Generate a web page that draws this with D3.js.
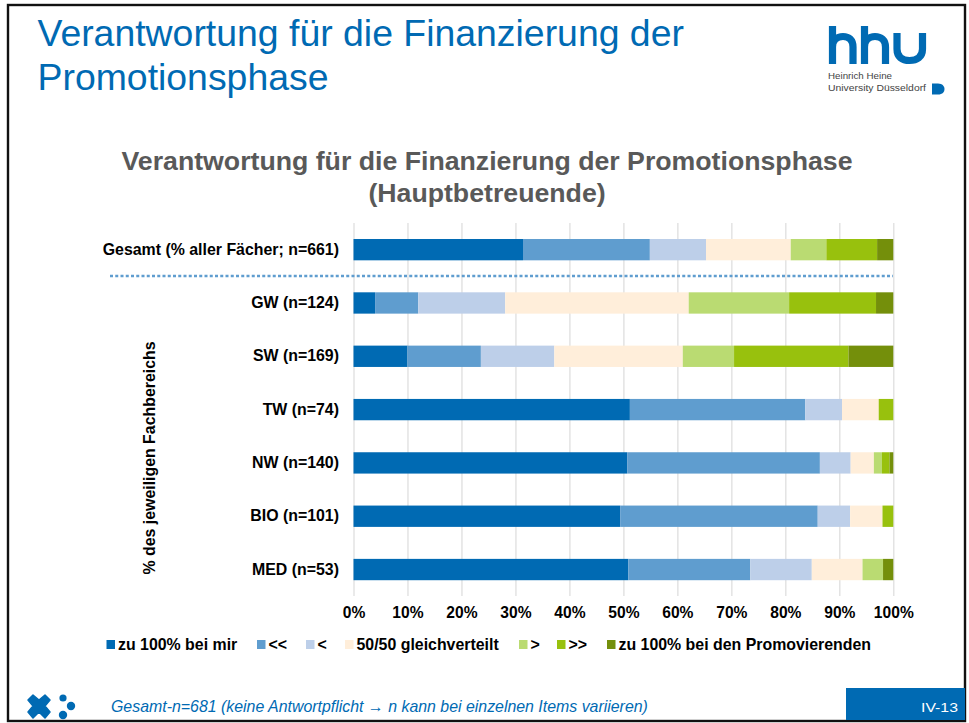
<!DOCTYPE html>
<html lang="de">
<head>
<meta charset="utf-8">
<script src="https://cdn.jsdelivr.net/npm/d3@7"></script>
<style>
html,body{margin:0;padding:0;background:#fff;}
svg{display:block;}
text{font-family:"Liberation Sans",Arial,sans-serif;}
</style>
</head>
<body>
<svg id="c" width="969" height="723"></svg>
<script>
const categories = ["Gesamt (% aller Fächer; n=661)","GW (n=124)","SW (n=169)","TW (n=74)","NW (n=140)","BIO (n=101)","MED (n=53)"];
const seriesNames = ["zu 100% bei mir","<<","<","50/50 gleichverteilt",">",">>","zu 100% bei den Promovierenden"];
const seriesColors = ["#006ab3","#5f9dcf","#bdcfe9","#ffeeda","#badb72","#98c10d","#748f0b"];
const s1 = [31.4, 4.0, 10.0, 51.2, 50.7, 49.4, 50.9];
const s2 = [23.5, 8.0, 13.6, 32.5, 35.7, 36.6, 22.6];
const s3 = [10.4, 16.1, 13.6, 6.8, 5.7, 6.0, 11.4];
const s4 = [15.7, 34.0, 23.8, 6.8, 4.3, 6.0, 9.4];
const s5 = [6.6, 18.6, 9.5, 0, 1.5, 0, 3.8];
const s6 = [9.4, 16.1, 21.2, 2.7, 1.4, 2.0, 0];
const s7 = [3.0, 3.2, 8.3, 0, 0.7, 0, 1.9];
const seriesValues = [s1,s2,s3,s4,s5,s6,s7];
const xTicks = [0,10,20,30,40,50,60,70,80,90,100];

const svg = d3.select("#c");
const blue = "#006ab3";

// slide frame
svg.append("rect").attr("x",8).attr("y",5).attr("width",957).attr("height",716)
  .attr("fill","#fff").attr("stroke","#111").attr("stroke-width",2.4);

// slide title
svg.append("text").attr("x",37.5).attr("y",46).attr("font-size",37.4).attr("fill",blue).text("Verantwortung für die Finanzierung der");
svg.append("text").attr("x",37.5).attr("y",90).attr("font-size",37.4).attr("fill",blue).text("Promotionsphase");

// logo
const logo = svg.append("g").attr("fill","none").attr("stroke",blue).attr("stroke-width",7.2);
logo.append("path").attr("d","M832.5 26V64M832.5 47C832.5 40 837 36.5 843 36.5C849 36.5 853 40 853 47V64");
logo.append("path").attr("d","M864.5 26V64M864.5 47C864.5 40 869 36.5 875 36.5C881 36.5 885.5 40 885.5 47V64");
logo.append("path").attr("d","M897 33V49C897 57 902 60.5 909.5 60.5C917 60.5 922.5 57 922.5 49V33");
svg.append("text").attr("x",828).attr("y",79).attr("font-size",9).attr("font-family","DejaVu Sans").attr("fill","#444").attr("textLength",64).attr("lengthAdjust","spacingAndGlyphs").text("Heinrich Heine");
svg.append("text").attr("x",828).attr("y",91).attr("font-size",9).attr("font-family","DejaVu Sans").attr("fill","#444").attr("textLength",98).attr("lengthAdjust","spacingAndGlyphs").text("University Düsseldorf");
svg.append("path").attr("d","M932 83.5H938C942.5 83.5 944.5 86.5 944.5 89C944.5 92 942.5 94.5 938 94.5H932Z").attr("fill",blue);

// chart title
svg.append("text").attr("x",487).attr("y",170).attr("text-anchor","middle").attr("font-size",26.7).attr("font-weight","bold").attr("fill","#595959").text("Verantwortung für die Finanzierung der Promotionsphase");
svg.append("text").attr("x",487).attr("y",202).attr("text-anchor","middle").attr("font-size",26.7).attr("font-weight","bold").attr("fill","#595959").text("(Hauptbetreuende)");

// scales
const x = d3.scaleLinear().domain([0,100]).range([353.5,893.3]);
const y = d3.scaleBand().domain(categories).range([223,596.2]).paddingInner(0.6).paddingOuter(0.3);

// gridlines and x tick labels
const xAxis = svg.append("g").attr("transform","translate(0,596)")
  .call(d3.axisBottom(x).tickValues(xTicks).tickFormat(d=>d+"%").tickSize(-373).tickPadding(11));
xAxis.select(".domain").remove();
xAxis.selectAll(".tick line").attr("stroke","#dcdcdc").attr("stroke-width",1.2);
xAxis.selectAll("text").attr("font-size",15.6).attr("font-weight","bold").attr("fill","#000")
  .attr("font-family","Liberation Sans");

// stacked bars
const stackRows = categories.map((c,i)=>{
  const r = {cat:c};
  seriesNames.forEach((n,j)=>{ r[n] = seriesValues[j][i]; });
  return r;
});
const stacked = d3.stack().keys(seriesNames)(stackRows);
svg.append("g").selectAll("g").data(stacked).join("g")
  .attr("fill",(d,i)=>seriesColors[i])
  .selectAll("rect").data(d=>d).join("rect")
  .attr("x",d=>x(d[0])).attr("width",d=>x(d[1])-x(d[0]))
  .attr("y",d=>y(d.data.cat)).attr("height",y.bandwidth());

// category labels
const yAxis = svg.append("g").attr("transform","translate(339,0)")
  .call(d3.axisLeft(y).tickSize(0).tickPadding(0));
yAxis.select(".domain").remove();
yAxis.selectAll("text").attr("font-size",15.9).attr("font-weight","bold").attr("fill","#000")
  .attr("font-family","Liberation Sans");

// dotted separator
svg.append("line").attr("x1",110).attr("x2",893).attr("y1",276).attr("y2",276)
  .attr("stroke","#5f9dcf").attr("stroke-width",2.4).attr("stroke-dasharray","3 2.25");

// y title
svg.append("text").attr("transform","translate(154.5,458) rotate(-90)").attr("text-anchor","middle")
  .attr("font-size",15.9).attr("font-weight","bold").attr("fill","#000").text("% des jeweiligen Fachbereichs");

// legend
const legendX = [106.5,257,306,345,519,557,607];
const lg = svg.append("g").selectAll("g").data(seriesNames).join("g")
  .attr("transform",(d,i)=>`translate(${legendX[i]},640)`);
lg.append("rect").attr("width",8.5).attr("height",9).attr("fill",(d,i)=>seriesColors[i]);
lg.append("text").attr("x",11.5).attr("y",10).attr("font-size",15.9).attr("font-weight","bold").attr("fill","#000").text(d=>d);

// footer
const mark = svg.append("g").attr("fill",blue);
mark.append("path").attr("d","M33 695L39 700L45 695L50 700L45 706L50 712L45 718L39 712L33 718L28 712L33 706L28 700Z").attr("stroke",blue).attr("stroke-width",1.5).attr("stroke-linejoin","round");
mark.selectAll("circle").data([[63,698,3.6],[71,706,4.2],[63,715,4.2]]).join("circle")
  .attr("cx",d=>d[0]).attr("cy",d=>d[1]).attr("r",d=>d[2]);
svg.append("text").attr("x",111).attr("y",712).attr("font-size",15.9).attr("font-style","italic").attr("fill",blue)
  .text("Gesamt-n=681 (keine Antwortpflicht → n kann bei einzelnen Items variieren)");
svg.append("rect").attr("x",846).attr("y",688).attr("width",119).attr("height",32).attr("fill",blue);
svg.append("text").attr("x",921).attr("y",712).attr("font-size",13).attr("font-family","DejaVu Serif").attr("fill","#fff").attr("textLength",37).attr("lengthAdjust","spacingAndGlyphs").text("IV-13");
</script>
</body>
</html>
